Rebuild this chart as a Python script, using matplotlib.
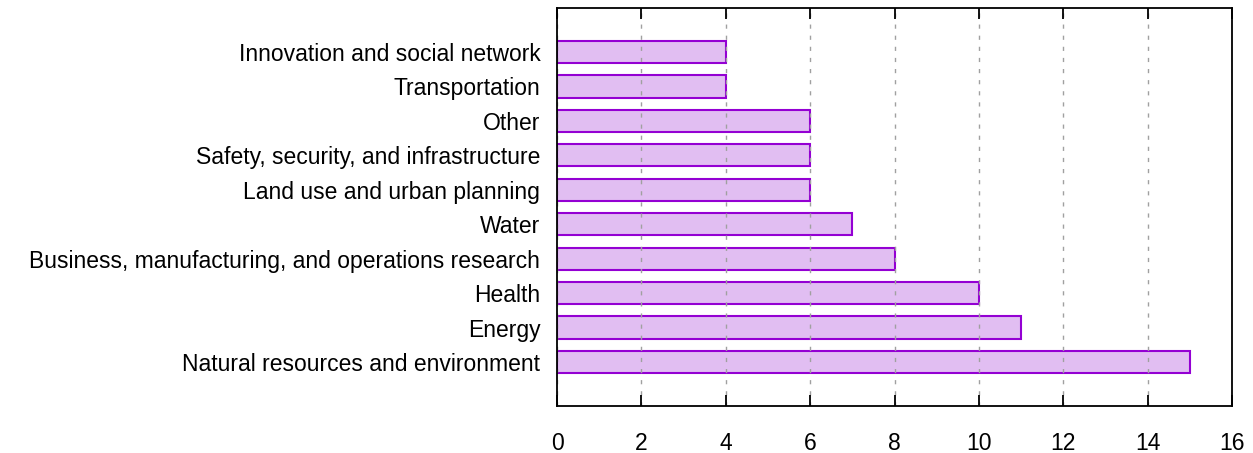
import matplotlib.pyplot as plt
import numpy as np

plt.rcParams['font.family'] = ['Liberation Sans', 'DejaVu Sans']

categories = ["Natural resources and environment", "Energy", "Health",
              "Business, manufacturing, and operations research", "Water",
              "Land use and urban planning", "Safety, security, and infrastructure",
              "Other", "Transportation", "Innovation and social network"]
counts = [15, 11, 10, 8, 7, 6, 6, 6, 4, 4]
xticks = [0, 2, 4, 6, 8, 10, 12, 14, 16]

fig = plt.figure(figsize=(12.53, 4.53), dpi=100)
ax = fig.add_axes([557/1253, 1-406/453, (1232-557)/1253, (406-8)/453])

y = np.arange(len(categories))
ax.barh(y, counts, height=0.64, color='#e1bef2', edgecolor='#9400d3', linewidth=1.5, zorder=1)

ax.set_xlim(0, 16)
ax.set_ylim(-1.28, len(categories) - 1 + 1.28)
ax.set_xticks(xticks)
ax.set_yticks(y)
ax.set_yticklabels(categories)
ax.tick_params(axis='x', direction='in', length=8, width=1.3, top=True, labelsize=16.5, pad=19)
ax.tick_params(axis='y', length=0, labelsize=16.5, pad=12)
ax.xaxis.grid(True, linestyle=(0, (3, 5)), color='#a0a0a0', linewidth=1, zorder=2)
ax.set_axisbelow(False)
for s in ax.spines.values():
    s.set_linewidth(1.3)
    s.set_zorder(3)

fig.savefig('out.png', dpi=100)
